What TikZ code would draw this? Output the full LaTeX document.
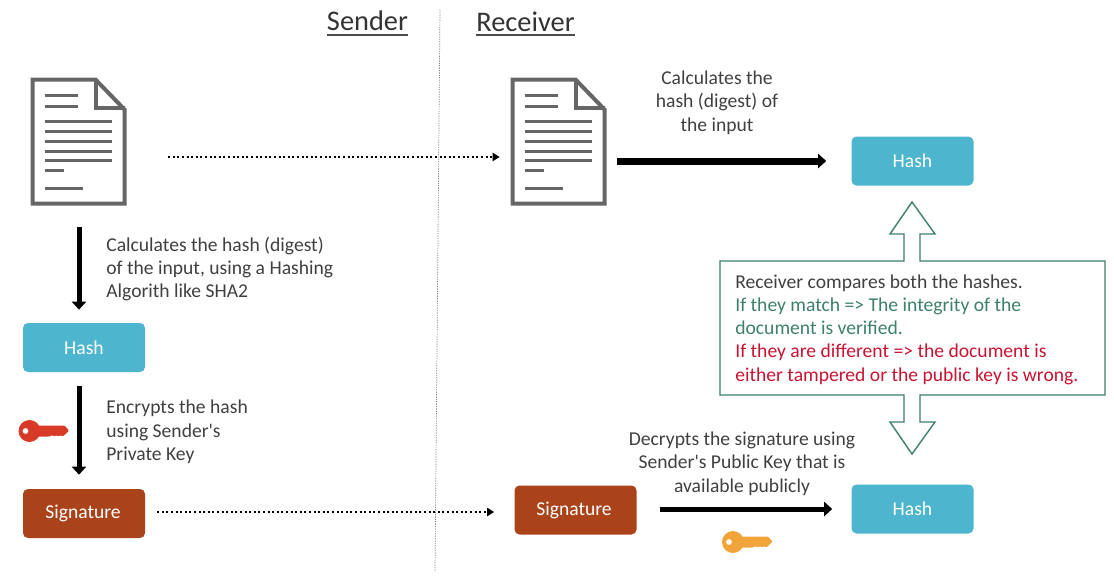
\documentclass[tikz,border=0pt]{standalone}
\usepackage{fontspec}
\setmainfont{Carlito}
\usetikzlibrary{arrows.meta}
\definecolor{hashArea}{RGB}{77,181,205}
\definecolor{signArea}{RGB}{170,67,26}
\definecolor{docGray}{RGB}{102,102,102}
\definecolor{textGray}{RGB}{64,64,64}
\definecolor{boxGreen}{RGB}{62,128,104}
\definecolor{wrongRed}{RGB}{200,20,50}
\definecolor{keyRed}{RGB}{216,58,40}
\definecolor{keyOrange}{RGB}{240,164,58}
\tikzset{
    every picture/.style={
        line width=0.2mm
    },
    % Style for the coloured boxes
    area box/.style={
        rounded corners=5pt,
        minimum width=122pt,
        minimum height=49pt,
        text=white,
        font=\fontsize{19.6}{22}\selectfont
    },
    hash box/.style={area box, fill=hashArea},
    sign box/.style={area box, fill=signArea},
    doc box/.style={minimum width=96pt, minimum height=128pt, inner sep=0pt},
    area label/.style={
        font=\fontsize{19.6}{23.3}\selectfont,
        text=textGray
    },
    head label/.style={
        font=\fontsize{28.4}{32}\selectfont,
        text=black!80,
        inner sep=0pt,
        anchor=south
    },
    head line/.style={
        line width=2pt,
        draw=black!70
    },
    dotted arrow/.style={
        line width=2pt,
        dash pattern=on 2pt off 2.6pt,
        -{Triangle[length=7pt,width=8pt]}
    },
    thick arrow/.style={
        line width=5pt,
        -{Triangle[length=8pt,width=14pt]}
    },
    doc icon/.pic={
        \draw[docGray, line width=4pt, line join=miter]
            (2,2) -- (65,2) -- (94,32) -- (94,126) -- (2,126) -- cycle;
        \draw[docGray, line width=4pt] (65,2) -- (65,30) -- (94,30);
        \foreach \y/\x in {18/33, 29/33, 44/67, 54/67, 64/67, 73.5/67, 83/67, 92.5/19, 110.5/38}
            \draw[docGray, line width=3pt] (14,\y) -- (\x+14,\y);
    },
    key icon/.pic={
        \fill[pic actions, even odd rule] (0,0) circle (11)
            (-4,0) circle (3);
        \fill[pic actions, rounded corners=1pt] (8,-5.5) -- (35,-5.5) -- (39.5,-0.5) -- (35,4) -- (33,5.5) -- (31,4)
            -- (29,5.5) -- (27,4) -- (25,5.5) -- (23,4) -- (20,5.5) -- (8,5.5) -- cycle;
    }
}

\begin{document}
\begin{tikzpicture}[x=1pt,y=-1pt]

% Set the canvas size
\path[use as bounding box] (0,0) rectangle (1114,584);

% Divider and headings
\coordinate (dividerTop) at (440,10);
\coordinate (dividerBottom) at (435,572);
\draw[gray, line width=0.7pt, dash pattern=on 1.2pt off 1.2pt] (dividerTop) -- (dividerBottom);
\node[head label] (senderHead) at (367.5,31) {Sender};
\node[head label] (receiverHead) at (525.5,31.5) {Receiver};
\draw[head line] ([yshift=-3.5pt]senderHead.south west) -- ([yshift=-3.5pt]senderHead.south east);
\draw[head line] ([yshift=-3.5pt]receiverHead.south west) -- ([yshift=-3.5pt]receiverHead.south east);

% Documents
\node[doc box] (docA) at (79,142) {};
\pic at (docA.north west) {doc icon};
\node[doc box] (docB) at (559,142) {};
\pic at (docB.north west) {doc icon};

% Coloured boxes
\node[hash box] (hashA) at (84,347.5) {Hash};
\node[sign box] (signA) at (84,513.5) {\hspace{-2pt}Signature};
\node[sign box] (signB) at (575.5,510) {\hspace{-3pt}Signature};
\node[hash box] (hashB) at (912.5,161) {Hash};
\node[hash box] (hashC) at (912.5,509) {Hash};

% Keys
\pic[keyRed] at (29.5,431) {key icon};
\pic[keyOrange] at (733,542) {key icon};

% Sender side labels
\node[area label, anchor=west, align=left] (hashLabel) at (102.7,269) {Calculates the hash (digest)\\of the input, using a Hashing\\Algorith like SHA2};
\node[area label, anchor=west, align=left] (encryptLabel) at (102.7,432) {Encrypts the hash\\using Sender\textquotesingle s\\Private Key};

% Receiver side labels
\node[area label, align=center] (digestLabel) at (717,102.5) {Calculates the\\hash (digest) of\\the input};
\node[area label, align=center] (decryptLabel) at (742,463.5) {Decrypts the signature using\\Sender\textquotesingle s Public Key that is\\available publicly};

% Compare box with both hollow arrows as one outline
\draw[boxGreen, line width=1.4pt, line join=miter]
    (720,261) -- (904,261) -- (904,234) -- (890,234) -- (912,202) -- (935,234) -- (920,234) -- (920,261)
    -- (1105,261) -- (1105,395) -- (920,395) -- (920,422) -- (935,422) -- (912,454) -- (890,422)
    -- (904,422) -- (904,395) -- (720,395) -- cycle;
\node[area label, anchor=west, align=left] (compareLabel) at (731.7,329.5) {Receiver compares both the hashes.\\
    \textcolor{boxGreen}{If they match => The integrity of the}\\
    \textcolor{boxGreen}{document is verified.}\\
    \textcolor{wrongRed}{If they are different => the document is}\\
    \textcolor{wrongRed}{either tampered or the public key is wrong.}};

% Connectors
\draw[thick arrow, shorten <=21pt, shorten >=13pt] (docA.south) -- (docA.south |- hashA.north);
\draw[thick arrow, shorten <=14pt, shorten >=14pt] (hashA.south -| docA.south) -- (signA.north -| docA.south);
\draw[dotted arrow, shorten <=41pt, shorten >=11pt] ([yshift=-15pt]docA.east) -- ([yshift=-15pt]docB.west);
\draw[dotted arrow, shorten <=12pt, shorten >=20pt] ([yshift=1.5pt]signA.east) -- ([yshift=-2pt]signB.west);
\draw[thick arrow, line width=7pt, shorten <=10pt, shorten >=25pt] (docB.east |- hashB.west) -- (hashB.west);
\draw[thick arrow, shorten <=23pt, shorten >=19pt] (signB.east |- hashC.west) -- (hashC.west);

\end{tikzpicture}
\end{document}
